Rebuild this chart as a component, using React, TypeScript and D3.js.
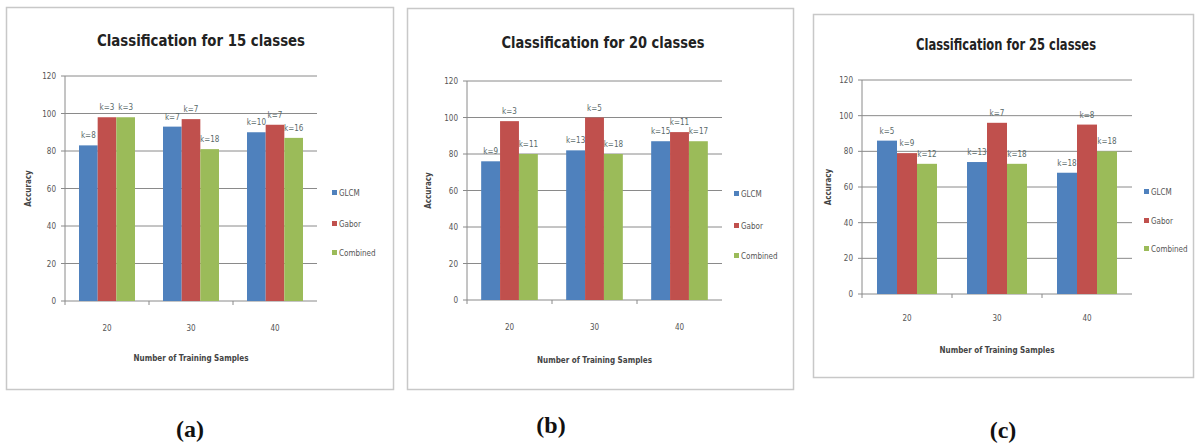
import React from "react";
import * as d3 from "d3";

// ---- data ----
const categories = ["20", "30", "40"];
const seriesNames = ["GLCM", "Gabor", "Combined"];
const yTicks = [0, 20, 40, 60, 80, 100, 120];

const titles = ["Classification for 15 classes", "Classification for 20 classes", "Classification for 25 classes"];
const panelLabels = ["(a)", "(b)", "(c)"];

// values per panel: [series][category]
const glcm15 = [83, 93, 90];
const gabor15 = [98, 97, 94];
const combined15 = [98, 81, 87];
const kLabels15 = [["k=8", "k=7", "k=10"], ["k=3", "k=7", "k=7"], ["k=3", "k=18", "k=16"]];

const glcm20 = [76, 82, 87];
const gabor20 = [98, 100, 92];
const combined20 = [80, 80, 87];
const kLabels20 = [["k=9", "k=13", "k=15"], ["k=3", "k=5", "k=11"], ["k=11", "k=18", "k=17"]];

const glcm25 = [86, 74, 68];
const gabor25 = [79, 96, 95];
const combined25 = [73, 73, 80];
const kLabels25 = [["k=5", "k=13", "k=18"], ["k=9", "k=7", "k=8"], ["k=12", "k=18", "k=18"]];

const colors = ["#4F81BD", "#C0504D", "#9BBB59"];

// ---- layout ----
type Layout = {
  frame: [number, number, number, number];
  px0: number; px1: number; py0: number; py120: number;
  titleX: number; titleY: number; titleW: number;
  legX: number; legY: number[];
  xLabY: number; xTitleY: number; yTitleX: number;
  panelLabX: number; panelLabY: number;
};

const layouts: Layout[] = [
  { frame: [6, 7, 387, 382], px0: 65, px1: 317, py0: 301, py120: 76, titleX: 201, titleY: 46, titleW: 208,
    legX: 335, legY: [193, 224, 253], xLabY: 331, xTitleY: 361, yTitleX: 31, panelLabX: 190, panelLabY: 437 },
  { frame: [407, 8, 386, 381], px0: 467, px1: 722, py0: 300, py120: 81, titleX: 603, titleY: 48, titleW: 203,
    legX: 737, legY: [194, 226, 256], xLabY: 330, xTitleY: 363, yTitleX: 431, panelLabX: 551, panelLabY: 433 },
  { frame: [813, 14, 380, 363], px0: 862, px1: 1132, py0: 294, py120: 80, titleX: 1006, titleY: 50, titleW: 180,
    legX: 1147, legY: [192, 221, 249], xLabY: 321, xTitleY: 353, yTitleX: 831, panelLabX: 1003, panelLabY: 438 },
];

const panelValues = [
  [glcm15, gabor15, combined15],
  [glcm20, gabor20, combined20],
  [glcm25, gabor25, combined25],
];
const panelK = [kLabels15, kLabels20, kLabels25];

const sans = "'Liberation Sans Narrow', 'DejaVu Sans Condensed', 'Liberation Sans', Arial, sans-serif";

function Panel({ idx }: { idx: number }) {
  const L = layouts[idx];
  const vals = panelValues[idx];
  const ks = panelK[idx];
  const y = d3.scaleLinear().domain([0, 120]).range([L.py0, L.py120]);
  const x = d3.scaleBand<string>().domain(categories).range([L.px0, L.px1]).paddingInner(1 / 3).paddingOuter(1 / 6);
  const xs = d3.scaleBand<string>().domain(seriesNames).range([0, x.bandwidth()]);
  const [fx, fy, fw, fh] = L.frame;
  const yMid = (L.py0 + L.py120) / 2;
  return (
    <g>
      <rect x={fx + 0.5} y={fy + 0.5} width={fw} height={fh} fill="#fff" stroke="#c8c8c8" strokeWidth={1.5} />
      <text x={L.titleX} y={L.titleY} textAnchor="middle" fontFamily={sans} fontSize={16} fontWeight="bold" fill="#222"
        textLength={L.titleW} lengthAdjust="spacingAndGlyphs">{titles[idx]}</text>
      {yTicks.map((t) => (
        <g key={t}>
          <line x1={L.px0 - 4} x2={L.px1} y1={y(t)} y2={y(t)} stroke="#8a8a8a" strokeWidth={1} />
          <text x={L.px0 - 9} y={y(t) + 3} textAnchor="end" fontFamily={sans} fontSize={8} fill="#555">{t}</text>
        </g>
      ))}
      <line x1={L.px0} x2={L.px0} y1={L.py120} y2={L.py0} stroke="#8a8a8a" strokeWidth={1} />
      {categories.map((c, ci) => (
        <g key={c}>
          <line x1={x(c)! - x.step() * (1 / 6)} x2={x(c)! - x.step() * (1 / 6)} y1={L.py0} y2={L.py0 + 4} stroke="#8a8a8a" />
          {seriesNames.map((s, si) => {
            const v = vals[si][ci];
            const bx = x(c)! + xs(s)!;
            return (
              <g key={s}>
                <rect x={bx} y={y(v)} width={xs.bandwidth()} height={L.py0 - y(v)} fill={colors[si]} />
                <text x={bx + xs.bandwidth() / 2} y={y(v) - 7} textAnchor="middle" fontFamily={sans} fontSize={8} fill="#5a6a6a">
                  {ks[si][ci]}
                </text>
              </g>
            );
          })}
          <text x={x(c)! + x.bandwidth() / 2} y={L.xLabY} textAnchor="middle" fontFamily={sans} fontSize={8} fill="#555">{c}</text>
        </g>
      ))}
      <text x={(L.px0 + L.px1) / 2} y={L.xTitleY} textAnchor="middle" fontFamily={sans} fontSize={8} fontWeight="bold" fill="#444">
        Number of Training Samples
      </text>
      <text transform={`translate(${L.yTitleX},${yMid}) rotate(-90)`} textAnchor="middle" fontFamily={sans} fontSize={8}
        fontWeight="bold" fill="#444">Accuracy</text>
      {seriesNames.map((s, si) => (
        <g key={s}>
          <rect x={L.legX - 3} y={L.legY[si] - 3} width={5} height={5} fill={colors[si]} />
          <text x={L.legX + 4} y={L.legY[si] + 3} fontFamily={sans} fontSize={8} fill="#555">{s}</text>
        </g>
      ))}
      <text x={L.panelLabX} y={L.panelLabY} textAnchor="middle" fontFamily="'Liberation Serif', 'DejaVu Serif', serif"
        fontSize={24} fontWeight="bold" fill="#111">{panelLabels[idx]}</text>
    </g>
  );
}

export default function App() {
  return (
    <svg width={1197} height={446} style={{ position: "absolute", left: 0, top: 0 }}>
      <rect width={1197} height={446} fill="#fff" />
      {[0, 1, 2].map((i) => <Panel key={i} idx={i} />)}
    </svg>
  );
}
